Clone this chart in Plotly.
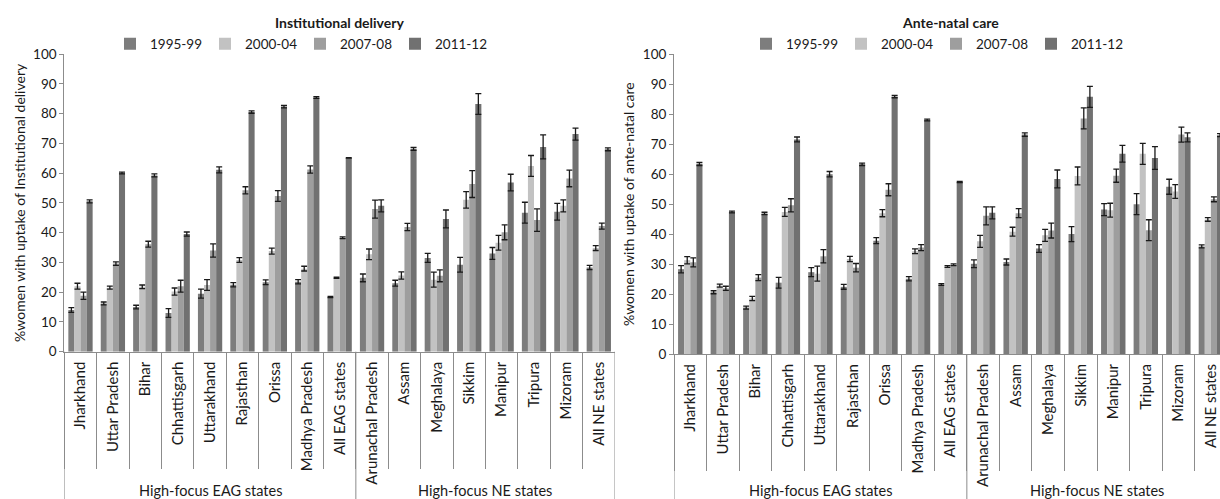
import plotly.graph_objects as go

# ---------------- data ----------------
group_names = ["High-focus EAG states", "High-focus NE states"]
group_sizes = [9, 8]
states = ["Jharkhand", "Uttar Pradesh", "Bihar", "Chhattisgarh", "Uttarakhand",
          "Rajasthan", "Orissa", "Madhya Pradesh", "All EAG states",
          "Arunachal Pradesh", "Assam", "Meghalaya", "Sikkim", "Manipur",
          "Tripura", "Mizoram", "All NE states"]
periods = ["1995-99", "2000-04", "2007-08", "2011-12"]

# Institutional delivery (%)
inst_1995 = [14.0, 16.2, 15.0, 13.0, 19.5, 22.5, 23.3, 23.5, 18.4, 24.8, 23.0, 31.5, 29.2, 33.0, 46.7, 47.0, 28.3]
inst_2000 = [22.0, 21.5, 21.8, 20.2, 22.4, 30.8, 33.8, 27.9, 24.8, 32.7, 25.6, 24.2, 51.0, 36.6, 62.4, 49.0, 34.8]
inst_2007 = [18.8, 29.6, 36.1, 22.0, 34.0, 54.2, 52.3, 61.2, 38.3, 47.9, 41.9, 25.5, 56.3, 40.1, 44.2, 58.2, 42.2]
inst_2011 = [50.5, 60.0, 59.2, 39.5, 61.1, 80.5, 82.3, 85.4, 65.1, 49.0, 68.1, 44.6, 83.2, 56.8, 68.8, 73.1, 68.0]
inst_err_1995 = [0.8, 0.5, 0.6, 1.5, 1.5, 0.7, 0.8, 0.7, 0.2, 1.3, 1.0, 1.5, 2.5, 2.0, 3.5, 2.8, 0.7]
inst_err_2000 = [1.0, 0.5, 0.6, 1.2, 1.8, 0.8, 1.0, 0.8, 0.2, 1.8, 1.2, 2.5, 2.8, 2.5, 3.5, 2.0, 0.8]
inst_err_2007 = [1.2, 0.6, 1.0, 2.0, 2.2, 1.2, 1.8, 1.2, 0.3, 3.0, 1.2, 2.0, 4.5, 2.5, 3.8, 2.8, 1.0]
inst_err_2011 = [0.5, 0.3, 0.5, 0.7, 1.0, 0.4, 0.4, 0.3, 0.1, 2.0, 0.5, 3.0, 3.5, 2.8, 4.0, 2.0, 0.5]

# Ante-natal care (%)
anc_1995 = [28.3, 20.6, 15.5, 23.8, 27.3, 22.4, 37.8, 25.1, 23.2, 30.1, 30.7, 35.2, 40.0, 48.2, 50.0, 55.8, 35.9]
anc_2000 = [31.3, 22.8, 18.5, 47.4, 26.8, 31.7, 47.0, 34.3, 29.2, 37.6, 40.8, 39.6, 59.4, 48.0, 66.8, 54.2, 44.9]
anc_2007 = [30.6, 21.9, 25.5, 49.6, 32.6, 28.8, 54.8, 35.5, 29.8, 46.1, 47.0, 41.2, 78.6, 59.5, 41.3, 73.2, 51.6]
anc_2011 = [63.4, 47.4, 46.9, 71.6, 60.0, 63.3, 85.9, 78.1, 57.4, 47.1, 73.2, 58.4, 85.8, 66.8, 65.4, 72.3, 73.0]
anc_err_1995 = [1.2, 0.5, 0.5, 1.8, 1.5, 0.8, 1.0, 0.7, 0.3, 1.3, 1.0, 1.3, 2.5, 2.0, 3.5, 2.5, 0.5]
anc_err_2000 = [1.2, 0.5, 0.7, 1.5, 2.5, 0.9, 1.2, 0.8, 0.3, 2.0, 1.5, 2.0, 3.0, 2.3, 3.5, 2.3, 0.6]
anc_err_2007 = [1.5, 0.7, 1.0, 2.2, 2.2, 1.4, 2.0, 1.0, 0.3, 3.0, 1.5, 2.5, 3.5, 2.2, 3.5, 2.5, 0.8]
anc_err_2011 = [0.5, 0.3, 0.4, 0.8, 0.9, 0.4, 0.4, 0.3, 0.2, 2.0, 0.6, 3.0, 3.5, 2.8, 3.8, 1.5, 0.5]

colors = ["#7d7d7d", "#c2c2c2", "#9e9e9e", "#717171"]

inst_vals = [inst_1995, inst_2000, inst_2007, inst_2011]
inst_errs = [inst_err_1995, inst_err_2000, inst_err_2007, inst_err_2011]
anc_vals = [anc_1995, anc_2000, anc_2007, anc_2011]
anc_errs = [anc_err_1995, anc_err_2000, anc_err_2007, anc_err_2011]

FONT = "Lato"
TEXT_COLOR = "#1a1a1a"
AXIS_COLOR = "#8c8c8c"

fig = go.Figure()

for i, p in enumerate(periods):
    fig.add_trace(go.Bar(
        x=states, y=inst_vals[i], name=p,
        marker=dict(color=colors[i], line=dict(width=0)),
        error_y=dict(type="data", array=inst_errs[i], color="#1a1a1a", thickness=1.3, width=3),
        xaxis="x", yaxis="y", legend="legend",
    ))
for i, p in enumerate(periods):
    fig.add_trace(go.Bar(
        x=states, y=anc_vals[i], name=p,
        marker=dict(color=colors[i], line=dict(width=0)),
        error_y=dict(type="data", array=anc_errs[i], color="#1a1a1a", thickness=1.3, width=3),
        xaxis="x2", yaxis="y2", legend="legend2",
    ))

W, H = 1220, 499

def px(xp):
    return xp / W

def py(yp):
    return 1 - yp / H

xcommon = dict(
    type="category", tickangle=-90, showline=True, linecolor=AXIS_COLOR, linewidth=1,
    ticks="outside", tickson="boundaries", ticklen=116, tickcolor=AXIS_COLOR, tickwidth=1,
    ticklabelstandoff=3,
    showgrid=False, zeroline=False, automargin=False,
    tickfont=dict(family=FONT, size=15, color=TEXT_COLOR),
)
ycommon = dict(
    range=[0, 100], dtick=10, showline=True, linecolor=AXIS_COLOR, linewidth=1,
    ticks="outside", ticklen=4, tickcolor=AXIS_COLOR, showgrid=False, zeroline=False,
    automargin=False, tickfont=dict(family=FONT, size=13.5, color=TEXT_COLOR),
)
legcommon = dict(
    orientation="h", y=py(44), yanchor="middle", xanchor="left",
    font=dict(family=FONT, size=13.5, color=TEXT_COLOR), bgcolor="rgba(0,0,0,0)",
    entrywidthmode="pixels", entrywidth=50, itemwidth=30, tracegroupgap=0,
)

plots = [
    dict(xa="x", ya="y", ybottom=351.7),
    dict(xa="x2", ya="y2", ybottom=354.0),
]

# group dividers (long lines) and group labels, positioned on the category axis
shapes = []
annotations = []
for pl in plots:
    start = 0
    bounds = [-0.5]
    for name, size in zip(group_names, group_sizes):
        bounds.append(start + size - 0.5)
        annotations.append(dict(
            text=name, xref=pl["xa"], yref="paper", x=start + (size - 1) / 2, y=py(490),
            xanchor="center", yanchor="middle", showarrow=False,
            font=dict(family=FONT, size=14.5, color=TEXT_COLOR)))
        start += size
    for b in bounds:
        shapes.append(dict(type="line", xref=pl["xa"], yref="paper", x0=b, x1=b,
                           y0=0, y1=py(pl["ybottom"]),
                           line=dict(color=AXIS_COLOR, width=1)))

annotations += [
    dict(text="<b>Institutional delivery</b>", xref="paper", yref="paper",
         x=px(339.7), y=py(22), xanchor="center", yanchor="middle", showarrow=False,
         font=dict(family=FONT, size=14, color=TEXT_COLOR)),
    dict(text="<b>Ante-natal care</b>", xref="paper", yref="paper",
         x=px(950), y=py(22), xanchor="center", yanchor="middle", showarrow=False,
         font=dict(family=FONT, size=14, color=TEXT_COLOR)),
]

fig.update_layout(
    width=W, height=H,
    margin=dict(l=0, r=0, t=0, b=0),
    paper_bgcolor="white", plot_bgcolor="white",
    font=dict(family=FONT, size=13, color=TEXT_COLOR),
    barmode="group", bargap=0.25, bargroupgap=0,
    xaxis=dict(domain=[px(64.3), px(615)], range=[-0.5, 16.5], anchor="y", **xcommon),
    yaxis=dict(domain=[py(351.7), py(54)], anchor="x",
               title=dict(text="%women with uptake of Institutional delivery", standoff=4,
                          font=dict(family=FONT, size=14, color=TEXT_COLOR)), **ycommon),
    xaxis2=dict(domain=[px(674), 1.0], range=[-0.5, 16.28], anchor="y2", **xcommon),
    yaxis2=dict(domain=[py(354), py(54.3)], anchor="x2",
                title=dict(text="%women with uptake of ante-natal care", standoff=4,
                           font=dict(family=FONT, size=14, color=TEXT_COLOR)), **ycommon),
    legend=dict(x=px(110), **legcommon),
    legend2=dict(x=px(746), **legcommon),
    shapes=shapes,
    annotations=annotations,
)

fig.write_html(
    "out.html",
    config={"displayModeBar": False},
    post_script="document.body.style.margin='0';document.body.style.overflow='hidden';",
)
